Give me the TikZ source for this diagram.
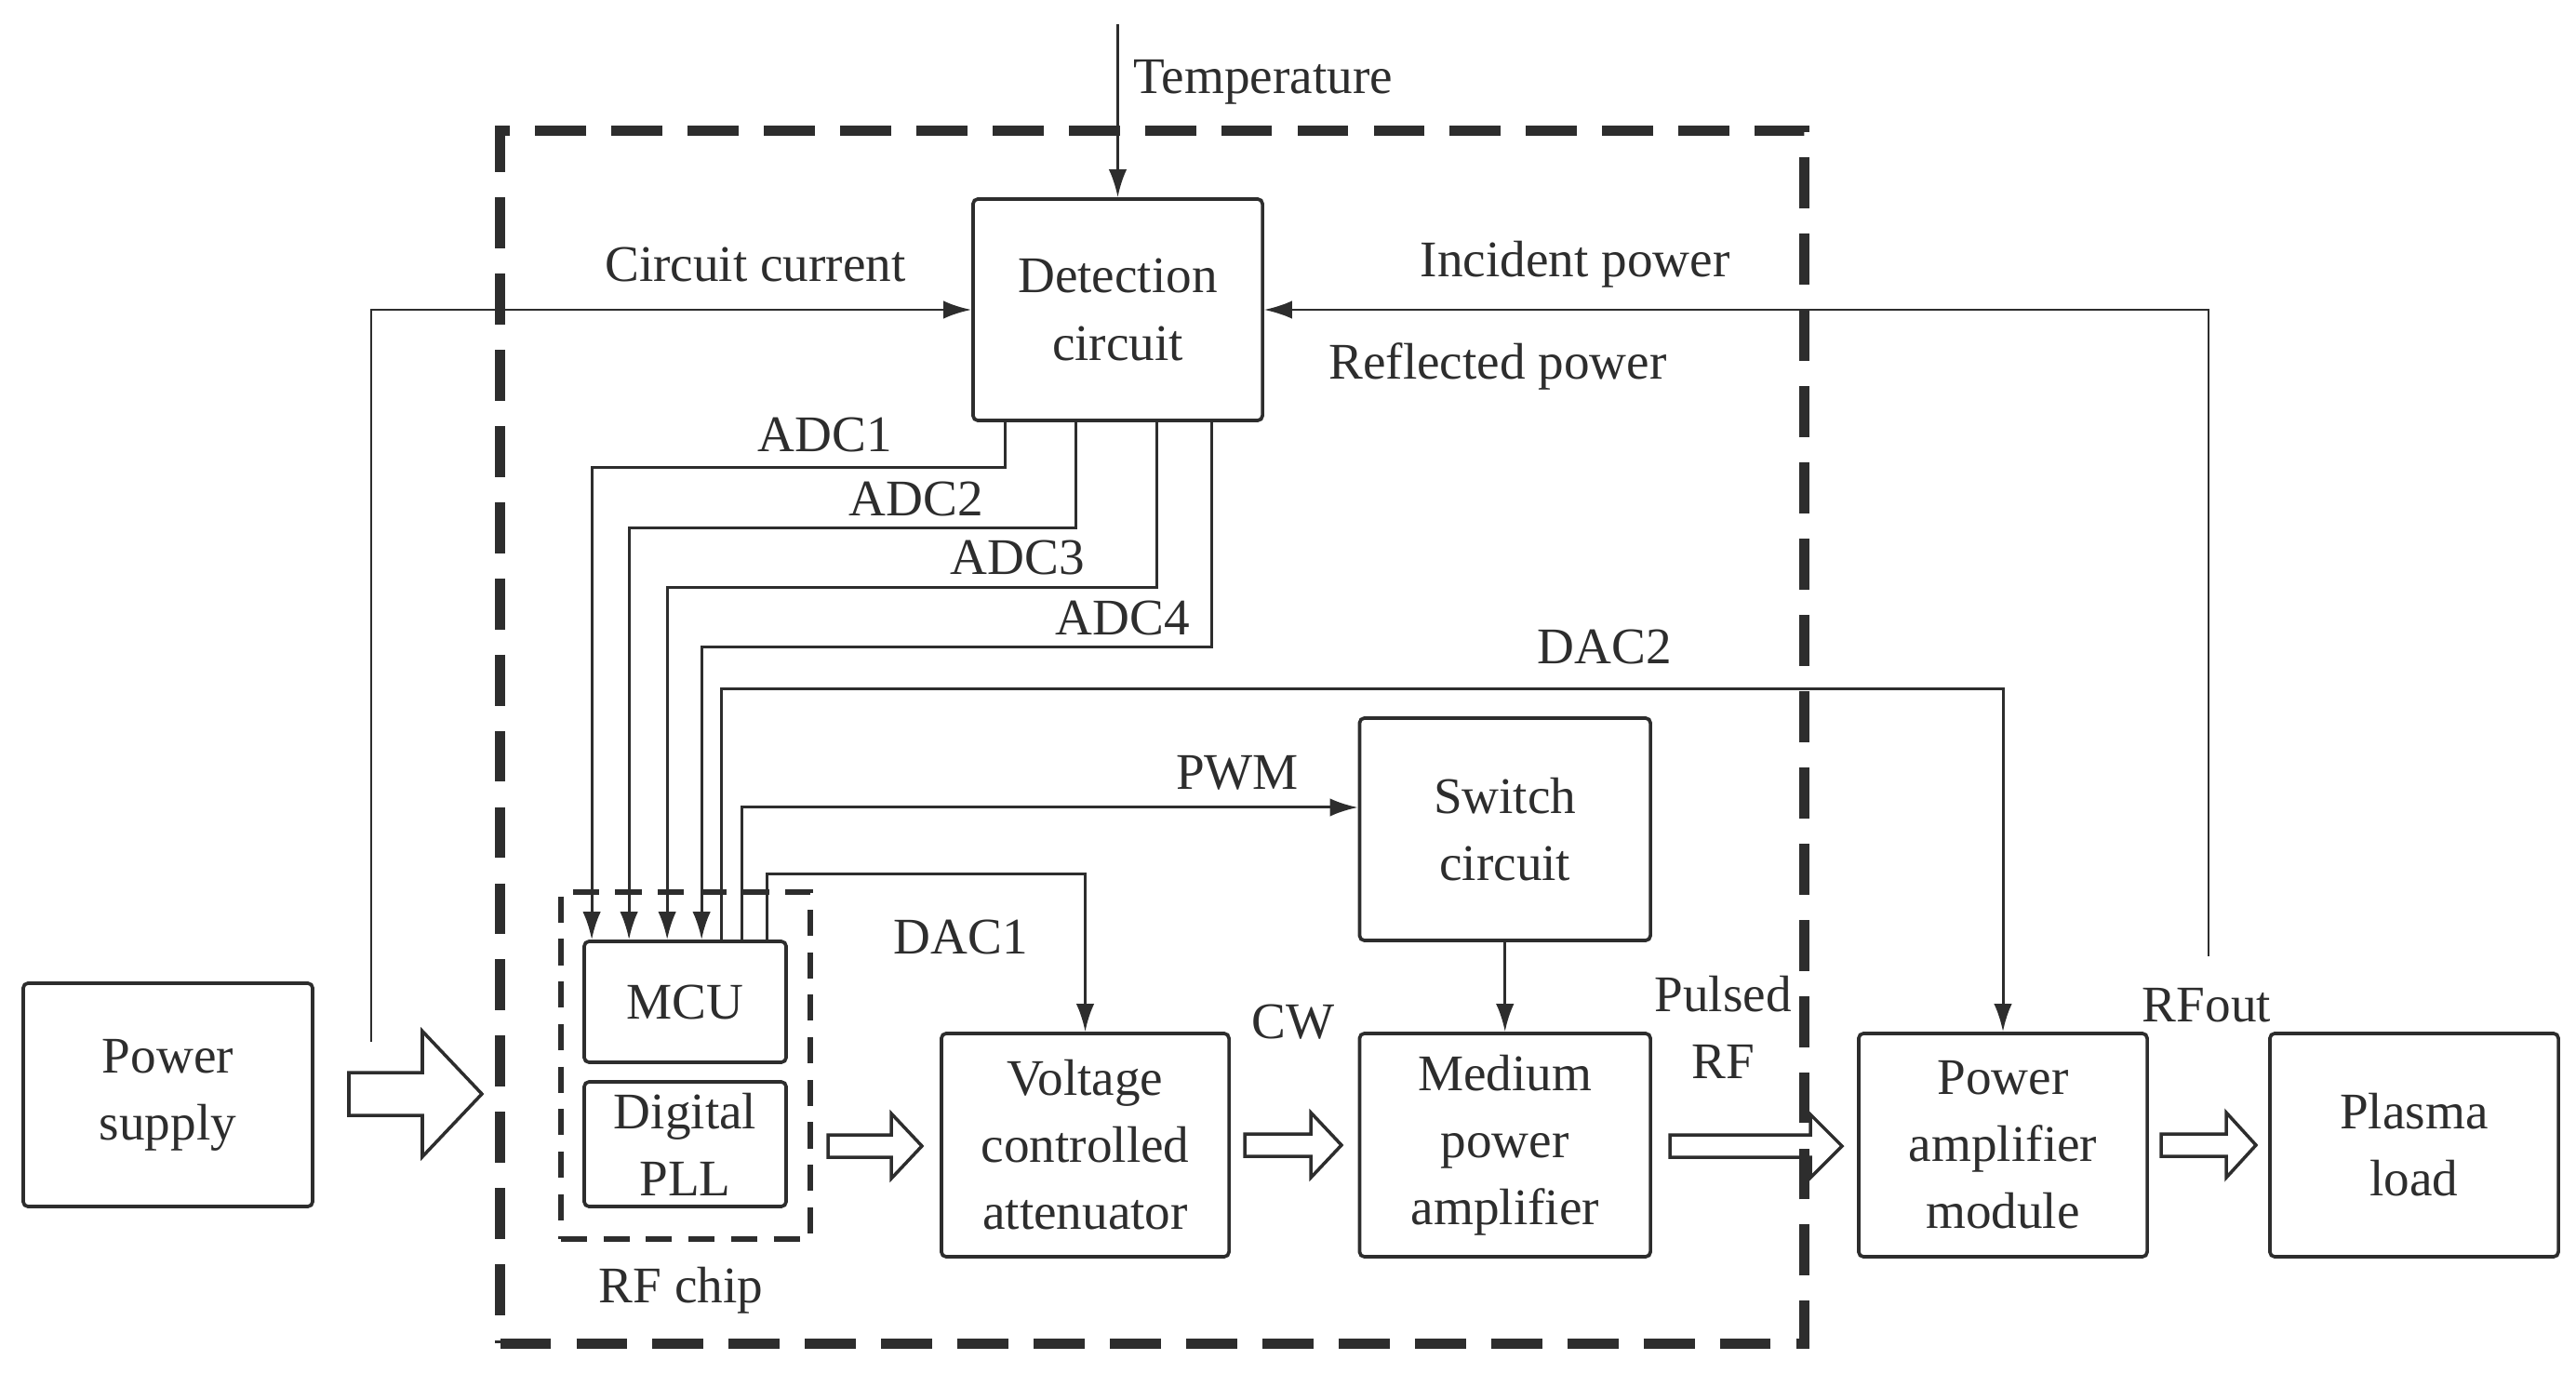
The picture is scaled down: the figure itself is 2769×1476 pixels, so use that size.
\documentclass[tikz,border=0pt]{standalone}
\usepackage{fontspec}
\setmainfont{Liberation Serif}
\usetikzlibrary{arrows.meta,calc}
\definecolor{ink}{RGB}{45,45,45}
\newcommand\fatarr[6]{%
  \draw[fat] (#1,#3-#4) -- (#2-#6,#3-#4) -- (#2-#6,#3-#5) -- (#2,#3) -- (#2-#6,#3+#5) -- (#2-#6,#3+#4) -- (#1,#3+#4) -- cycle;}
\begin{document}
\begin{tikzpicture}[x=0.01cm,y=-0.01cm,
  font=\fontsize{15.7}{20.5}\selectfont,
  box/.style={draw=ink, line width=1.05pt, rounded corners=1.5pt, align=center, text=ink, inner sep=0pt},
  conn/.style={draw=ink, line width=0.85pt, -{Latex[length=8.5pt,width=5.5pt]}},
  lbl/.style={text=ink, inner sep=0pt, align=center},
  fat/.style={draw=ink, line width=1pt, fill=white, line join=miter}]
\useasboundingbox (0,0) rectangle (2769,1476);

% blocks
\node[box, minimum width=3.11cm, minimum height=2.38cm] (det) at (1201.5,333) {Detection\\circuit};
\node[box, minimum width=3.125cm, minimum height=2.39cm] (sw) at (1617.75,891.5) {Switch\\circuit};
\node[box, minimum width=3.125cm, minimum height=2.40cm] (mpa) at (1617.75,1231) {Medium\\power\\amplifier};
\node[box, minimum width=3.09cm, minimum height=2.40cm] (vca) at (1166.5,1231) {Voltage\\controlled\\attenuator};
\node[box, minimum width=3.10cm, minimum height=2.40cm] (pam) at (2153,1231) {Power\\amplifier\\module};
\node[box, minimum width=3.10cm, minimum height=2.40cm] (pl) at (2595,1231) {Plasma\\load};
\node[box, minimum width=3.11cm, minimum height=2.40cm] (ps) at (180.5,1177) {Power\\supply};
\node[box, minimum width=2.17cm, minimum height=1.30cm] (mcu) at (736.5,1077) {MCU};
\node[box, minimum width=2.17cm, minimum height=1.34cm] (pll) at (736.5,1230) {Digital\\PLL};

% RF chip group
\node[draw=ink, dash pattern=on 8pt off 5pt, line width=1.6pt, minimum width=2.68cm, minimum height=3.73cm, inner sep=0pt] (rfc) at (737,1145.5) {};
\node[lbl] (rfcl) at (732,1387) {RF chip};

% temperature
\coordinate (tsrc) at (1201.5,26);
\draw[conn] (tsrc) -- (det.north);
\node[lbl] (tlab) at (1358,88) {Temperature};

% circuit current
\coordinate (ccsrc) at (399,1120);
\draw[conn] (ccsrc) |- (det.west);
\node[lbl] (cclab) at (812,284) {Circuit current};

% incident / reflected power
\coordinate (ipsrc) at (2374,1028);
\draw[conn, line width=0.7pt] (ipsrc) |- (det.east);
\node[lbl] (iplab) at (1693,284) {Incident power};
\node[lbl] (rplab) at (1610,394) {Reflected power};

% ADC lines
\draw[conn] ([xshift=0.36cm]det.south west) -- ++(0,49) -| ([xshift=0.10cm]mcu.north west);
\draw[conn] ([xshift=1.12cm]det.south west) -- ++(0,114) -| ([xshift=0.50cm]mcu.north west);
\draw[conn] ([xshift=1.99cm]det.south west) -- ++(0,178) -| ([xshift=0.91cm]mcu.north west);
\draw[conn] ([xshift=2.58cm]det.south west) -- ++(0,242) -| ([xshift=1.28cm]mcu.north west);
\node[lbl] (adc1) at (887,467) {ADC1};
\node[lbl] (adc2) at (985,536) {ADC2};
\node[lbl] (adc3) at (1094,599) {ADC3};
\node[lbl] (adc4) at (1207,664) {ADC4};

% MCU outputs
\draw[conn] ([xshift=1.49cm]mcu.north west) -- ++(0,-270) -| (pam.north);
\draw[conn] ([xshift=1.71cm]mcu.north west) |- ([yshift=0.235cm]sw.west);
\draw[conn] ([xshift=1.98cm]mcu.north west) -- ++(0,-71) -| (vca.north);
\draw[conn] (sw.south) -- (mpa.north);
\node[lbl] (dac2) at (1725,695) {DAC2};
\node[lbl] (pwm) at (1330,831) {PWM};
\node[lbl] (dac1) at (1033,1007) {DAC1};

% hollow arrows
\fatarr{375}{518}{1176}{23}{67.5}{64}
\fatarr{890}{991}{1232}{12}{35}{33}
\fatarr{1338}{1442}{1231}{12}{35}{33}
\fatarr{1795}{1980}{1232}{12}{34}{34}
\fatarr{2323}{2425}{1231}{12}{35}{32}
\node[lbl] (cw) at (1390,1099) {CW};
\node[lbl] (prf) at (1852,1104) {Pulsed\\RF};
\node[lbl] (rfout) at (2372,1081) {RFout};

% outer dashed boundary
\node[draw=ink, line width=3pt, dash pattern=on 15.6pt off 7.7pt, minimum width=14.01cm, minimum height=13.03cm, inner sep=0pt] (outer) at (1238.5,792.5) {};
\end{tikzpicture}
\end{document}
